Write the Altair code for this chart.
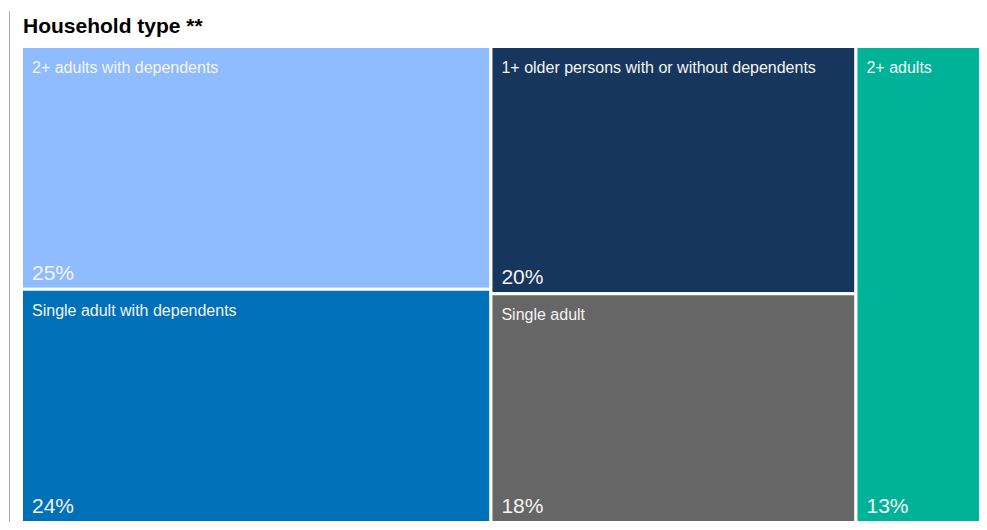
import altair as alt
import pandas as pd

title_text = "Household type **"
categories = [
    "2+ adults with dependents",
    "Single adult with dependents",
    "1+ older persons with or without dependents",
    "Single adult",
    "2+ adults",
]
values = [25, 24, 19.8, 18.3, 13]
columns = [0, 0, 1, 1, 2]
colors = ["#8fbcff", "#0070b8", "#17365d", "#666666", "#00b398"]

df = pd.DataFrame({"cat": categories, "value": values, "col": columns, "color": colors})
col_tot = df.groupby("col")["value"].sum()
col_x1 = col_tot.cumsum()
col_x0 = col_x1 - col_tot
df["x0"] = df["col"].map(col_x0)
df["x1"] = df["col"].map(col_x1)
df["frac"] = df["value"] / df["col"].map(col_tot)
df["y1"] = df.groupby("col")["frac"].cumsum()
df["y0"] = df["y1"] - df["frac"]
df["pct"] = df["value"].round(0).astype(int).astype(str) + "%"

W, H = 956, 473
total = float(col_tot.sum())
xs = alt.Scale(domain=[0, total], range=[-1.5, W + 1.5], nice=False, zero=False)
ys = alt.Scale(domain=[0, 1], range=[-1.5, H + 1.5], nice=False, zero=False)

base = alt.Chart(df)

rects = base.mark_rect(stroke="white", strokeWidth=3).encode(
    x=alt.X("x0:Q", scale=xs, axis=None),
    x2="x1:Q",
    y=alt.Y("y0:Q", scale=ys, axis=None),
    y2="y1:Q",
    color=alt.Color("color:N", scale=None, legend=None),
)

labels = base.mark_text(
    align="left", baseline="alphabetic", dx=10.5, dy=26.5,
    fontSize=16, font="Liberation Sans", color="#f4f4f4",
).encode(
    x=alt.X("x0:Q", scale=xs, axis=None),
    y=alt.Y("y0:Q", scale=ys, axis=None),
    text="cat:N",
)

pcts = base.mark_text(
    align="left", baseline="alphabetic", dx=10.5, dy=-9.5,
    fontSize=21, font="Liberation Sans", color="#f4f4f4",
).encode(
    x=alt.X("x0:Q", scale=xs, axis=None),
    y=alt.Y("y1:Q", scale=ys, axis=None),
    text="pct:N",
)

one = pd.DataFrame({"t": [title_text]})
vline = alt.Chart(one).mark_rule(color="#aaaaaa", strokeWidth=1).encode(
    x=alt.value(-13.5), y=alt.value(-37), y2=alt.value(474)
)
title = alt.Chart(one).mark_text(
    align="left", baseline="alphabetic", fontSize=21, fontWeight="bold",
    font="Liberation Sans", color="#000000",
).encode(x=alt.value(0), y=alt.value(-15), text="t:N")

chart = (
    alt.layer(vline, rects, labels, pcts, title)
    .properties(
        width=W,
        height=H,
        padding={"left": 15, "top": 40, "right": 0, "bottom": 1},
        autosize=alt.AutoSizeParams(type="none"),
    )
    .configure_view(stroke=None)
)

chart.save("out.html", embed_options={"renderer": "svg", "actions": False})
